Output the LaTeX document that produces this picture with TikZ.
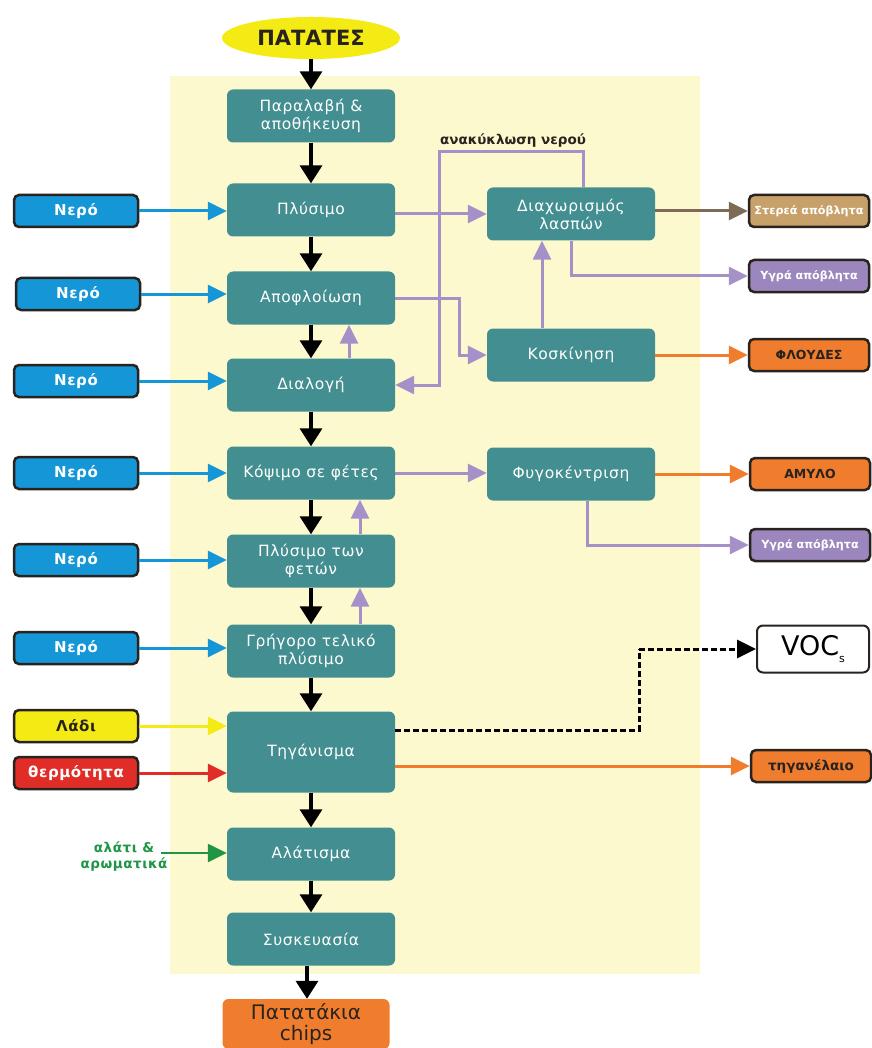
\documentclass[tikz,border=0pt]{standalone}
\usepackage{fontspec}
\setmainfont{DejaVu Sans}
\newfontfamily\widef[LetterSpace=4]{DejaVu Sans}
\usetikzlibrary{arrows.meta,shapes.geometric,calc}
\definecolor{teal1}{RGB}{66,142,144}
\definecolor{bgy}{RGB}{253,249,206}
\definecolor{blu}{RGB}{20,150,215}
\definecolor{purp}{RGB}{165,145,200}
\definecolor{lav}{RGB}{155,135,190}
\definecolor{tan1}{RGB}{200,160,105}
\definecolor{brn}{RGB}{125,107,85}
\definecolor{orng}{RGB}{240,125,45}
\definecolor{redd}{RGB}{225,45,40}
\definecolor{yel}{RGB}{245,235,20}
\definecolor{grn}{RGB}{30,150,70}
\definecolor{dk}{RGB}{40,35,30}
\tikzset{
  proc/.style={rounded corners=6pt, fill=teal1, text=white, minimum width=168pt, minimum height=53pt, align=center, inner sep=2pt, font=\widef\fontsize{15.5}{18}\selectfont},
  inbox/.style={rounded corners=5pt, draw=dk, line width=2.5pt, minimum width=124pt, minimum height=32pt, inner sep=1pt, font=\widef\bfseries\fontsize{15}{17}\selectfont},
  outbox/.style={rounded corners=5pt, draw=dk, line width=2.5pt, minimum width=120pt, minimum height=32pt, inner sep=1pt, font=\bfseries\fontsize{11.2}{13}\selectfont},
  marr/.style={black, line width=3.5pt, -{Triangle[length=18pt,width=22pt]}},
  carr/.style={line width=3pt, -{Triangle[length=19pt,width=18pt]}},
}
\begin{document}
\begin{tikzpicture}[x=1pt,y=-1pt]
\useasboundingbox (0,0) rectangle (871,1048);
\fill[white] (0,0) rectangle (871,1048);
\fill[bgy] (170,76) rectangle (700,974);

% main column
\node[ellipse, fill=yel, minimum width=178pt, minimum height=42pt, inner sep=0pt, text=dk, font=\bfseries\fontsize{21}{23}\selectfont] (pat) at (311,38) {ΠΑΤΑΤΕΣ};
\node[proc] (par) at (311,116) {Παραλαβή \&\\αποθήκευση};
\node[proc] (ply) at (311,210) {Πλύσιμο};
\node[proc] (apo) at (311,298) {Αποφλοίωση};
\node[proc] (dial) at (311,385) {Διαλογή};
\node[proc] (kop) at (311,473) {Κόψιμο σε φέτες};
\node[proc] (plf) at (311,561) {Πλύσιμο των\\φετών};
\node[proc] (gri) at (311,651) {Γρήγορο τελικό\\πλύσιμο};
\node[proc, minimum height=81pt] (tig) at (311,752) {Τηγάνισμα};
\node[proc] (alat) at (311,854) {Αλάτισμα};
\node[proc] (sysk) at (311,939) {Συσκευασία};
\node[rounded corners=6pt, fill=orng, minimum width=167pt, minimum height=50pt, align=center, inner sep=1pt, text=dk, font=\fontsize{20}{21}\selectfont] (chips) at (306,1024) {Πατατάκια\\chips};

% right column
\node[proc] (dia) at (571,214) {Διαχωρισμός\\λασπών};
\node[proc] (kosk) at (571,355) {Κοσκίνηση};
\node[proc] (fug) at (571,474) {Φυγοκέντριση};

% inputs
\node[inbox, fill=blu, text=white] (n1) at (76,211) {Νερό};
\node[inbox, fill=blu, text=white] (n2) at (78,294) {Νερό};
\node[inbox, fill=blu, text=white] (n3) at (76,381) {Νερό};
\node[inbox, fill=blu, text=white] (n4) at (76,473) {Νερό};
\node[inbox, fill=blu, text=white] (n5) at (76,560) {Νερό};
\node[inbox, fill=blu, text=white] (n6) at (76,648) {Νερό};
\node[inbox, fill=yel, text=dk] (ladi) at (76,726) {Λάδι};
\node[inbox, fill=redd, text=white] (therm) at (76,773) {θερμότητα};
\node[text=grn, align=center, font=\widef\bfseries\fontsize{13.5}{16}\selectfont] (salt) at (124,857) {αλάτι \&\\αρωματικά};
\coordinate (s0) at (161,853);

% outputs
\node[outbox, fill=tan1, text=white] (ster) at (809,211) {Στερεά απόβλητα};
\node[outbox, fill=lav, text=white] (ygr1) at (809,276) {Υγρά απόβλητα};
\node[outbox, fill=orng, text=dk, font=\bfseries\fontsize{12.5}{14}\selectfont] (flou) at (809,355) {ΦΛΟΥΔΕΣ};
\node[outbox, fill=orng, text=dk, font=\bfseries\fontsize{12.5}{14}\selectfont] (amy) at (810,474) {ΑΜΥΛΟ};
\node[outbox, fill=lav, text=white] (ygr2) at (810,545) {Υγρά απόβλητα};
\node[rounded corners=6pt, draw=dk, line width=2pt, fill=white, minimum width=112pt, minimum height=47pt, inner sep=1pt, font=\fontsize{27}{29}\selectfont] (voc) at (813,649) {VOC\raisebox{-7pt}{\fontsize{11}{12}\selectfont s}};
\node[outbox, fill=orng, text=dk, font=\bfseries\fontsize{13.5}{15}\selectfont] (tigel) at (811,766) {τηγανέλαιο};

% main arrows
\draw[marr] (pat) -- (par);
\draw[marr] (par) -- (ply);
\draw[marr] (ply) -- (apo);
\draw[marr] (apo) -- (dial);
\draw[marr] (dial) -- (kop);
\draw[marr] (kop) -- (plf);
\draw[marr] (plf) -- (gri);
\draw[marr] (gri) -- (tig);
\draw[marr] (tig) -- (alat);
\draw[marr] (alat) -- (sysk);
\draw[marr] ([xshift=-4pt]sysk.south) -- ([xshift=-4pt]sysk.south |- chips.north);

% inputs arrows
\draw[carr, blu] (n1.east) -- (n1.east -| ply.west);
\draw[carr, blu] (n2.east) -- (n2.east -| apo.west);
\draw[carr, blu] (n3.east) -- (n3.east -| dial.west);
\draw[carr, blu] (n4.east) -- (n4.east -| kop.west);
\draw[carr, blu] (n5.east) -- (n5.east -| plf.west);
\draw[carr, blu] (n6.east) -- (n6.east -| gri.west);
\draw[carr, yel] (ladi.east) -- (ladi.east -| tig.west);
\draw[carr, redd] (therm.east) -- (therm.east -| tig.west);
\draw[carr, grn, line width=2.5pt] (s0) -- (s0 -| alat.west);

% purple internal
\draw[carr, purp] ([xshift=38pt]dial.north) -- ([xshift=38pt]apo.south);
\draw[carr, purp] ([xshift=49pt]plf.north) -- ([xshift=49pt]kop.south);
\draw[carr, purp] ([xshift=49pt]gri.north) -- ([xshift=49pt]plf.south);
\draw[carr, purp] (ply.east |- dia.west) -- (dia.west);
\draw[carr, purp] (apo.east) -- ++(64,0) |- (kosk.west);
\draw[carr, purp] ([xshift=-29pt]kosk.north) -- ([xshift=-29pt]dia.south);
\draw[carr, purp] (kop.east) -- (kop.east -| fug.west);
\coordinate (rc) at (439,152);
\draw[carr, purp] ([xshift=12pt]dia.north) |- (rc) |- (dial.east);
\node[text=dk, font=\bfseries\fontsize{13.5}{15}\selectfont] (rlab) at (513,141) {ανακύκλωση νερού};
\draw[carr, purp] (dia.south) |- (ygr1.west);
\draw[carr, purp] ([xshift=16pt]fug.south) |- (ygr2.west);

% outputs
\draw[carr, brn] (dia.east |- ster.west) -- (ster.west);
\draw[carr, orng] (kosk.east) -- (kosk.east -| flou.west);
\draw[carr, orng] (fug.east) -- (fug.east -| amy.west);
\coordinate (vc) at (639,649);
\draw[black, line width=3pt, dash pattern=on 6pt off 3pt] ([yshift=22pt]tig.east) -| (vc);
\draw[carr, black, dash pattern=on 6pt off 3pt] (vc) -- (voc.west);
\draw[carr, orng] (tigel.west -| tig.east) -- (tigel.west);
\end{tikzpicture}
\end{document}
